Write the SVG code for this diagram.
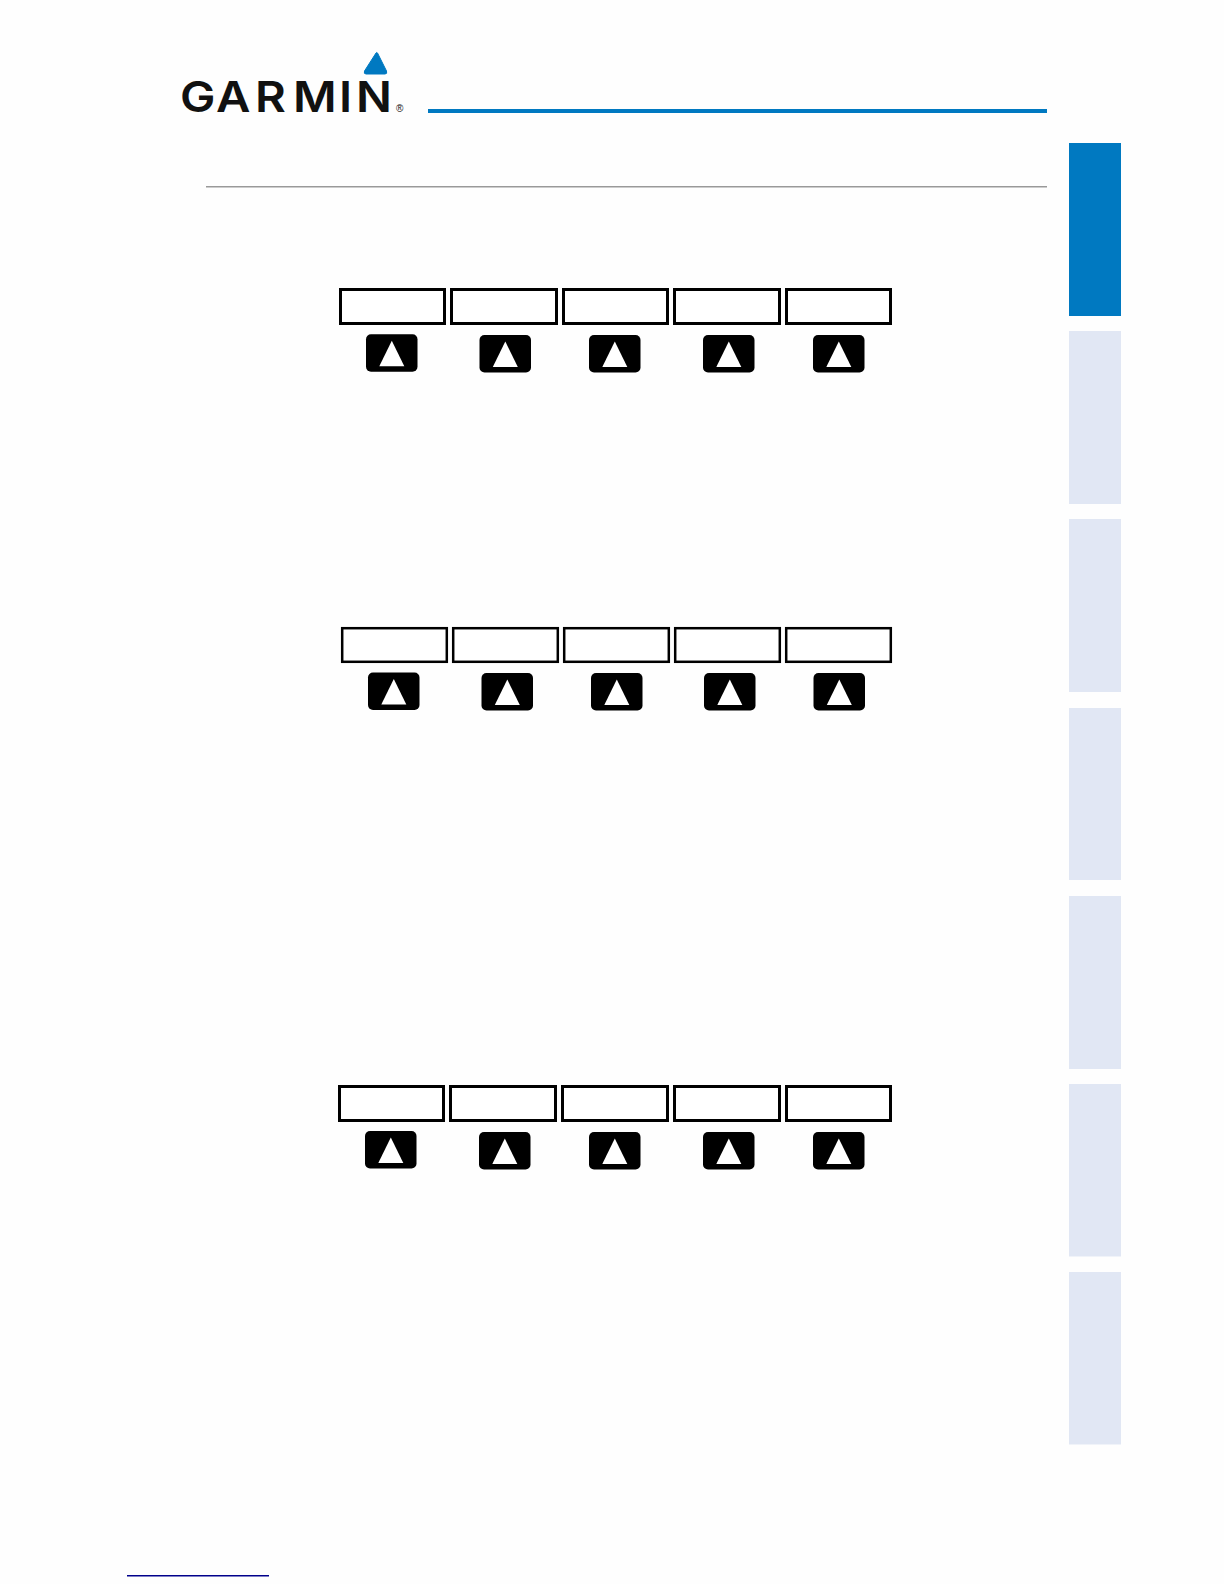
<svg xmlns="http://www.w3.org/2000/svg" width="1224" height="1584" viewBox="0 0 1224 1584">
<style>
.bg{fill:#fefefe}
.tab{fill:#e1e7f4}
.tabon{fill:#0079c1}
.key{fill:#fff;stroke:#000;stroke-width:3}
.keyb{fill:#fff;stroke:#000;stroke-width:2.5}
.btn{fill:#000}
.tri{fill:#fff}
.logo{font-family:"Inter","Liberation Sans",sans-serif;font-weight:600;fill:#111}
</style>
<defs>
<g id="softkey">
<rect class="btn" x="0" y="0" width="51.5" height="37.5" rx="5" ry="5"/>
<polygon class="tri" points="25.8,6.5 38.3,32 13.3,32"/>
</g>
</defs>
<rect class="bg" width="1224" height="1584"/>

<g id="logo">
<path d="M376 53 Q376.7 52 377.5 53 L386.5 71 Q387.5 74 385 74 L366 74 Q363.5 74 364.5 71 Z" fill="#0079c1" stroke="#0079c1" stroke-width="1" stroke-linejoin="round"/>
<text class="logo" transform="translate(180 112) scale(1.1 1)" x="0 32.700 68.200 102.700 144.500 160" y="0" font-size="43">GARMIN</text>
<text x="396" y="112" font-family="Liberation Sans, sans-serif" font-size="10" fill="#111">®</text>
</g>
<rect id="header-rule" x="428" y="109" width="619" height="4" fill="#0079c1"/>
<rect id="section-rule" x="206" y="186" width="841" height="1.5" fill="#999"/>

<g id="tabs">
<rect id="tab-1" class="tabon" x="1069" y="143" width="52" height="173"/>
<rect id="tab-2" class="tab" x="1069" y="331" width="52" height="173"/>
<rect id="tab-3" class="tab" x="1069" y="519" width="52" height="173"/>
<rect id="tab-4" class="tab" x="1069" y="708" width="52" height="172"/>
<rect id="tab-5" class="tab" x="1069" y="896" width="52" height="173"/>
<rect id="tab-6" class="tab" x="1069" y="1084" width="52" height="172.500"/>
<rect id="tab-7" class="tab" x="1069" y="1272" width="52" height="172.500"/>
</g>

<g id="softkeys-1">
<rect class="key" x="340.5" y="289.5" width="104" height="34"/>
<rect class="key" x="451.500" y="289.5" width="105" height="34"/>
<rect class="key" x="563.5" y="289.5" width="104" height="34"/>
<rect class="key" x="674.5" y="289.5" width="105" height="34"/>
<rect class="key" x="786.5" y="289.5" width="104" height="34"/>
<use href="#softkey" x="366" y="334.300"/>
<use href="#softkey" x="479.500" y="335"/>
<use href="#softkey" x="589" y="335"/>
<use href="#softkey" x="703" y="335"/>
<use href="#softkey" x="813" y="335"/>
</g>

<g id="softkeys-2">
<rect class="keyb" x="342.2" y="628.2" width="104.6" height="33.6"/>
<rect class="keyb" x="453.2" y="628.2" width="104.6" height="33.6"/>
<rect class="keyb" x="564.2" y="628.2" width="104.6" height="33.6"/>
<rect class="keyb" x="675.2" y="628.2" width="104.6" height="33.6"/>
<rect class="keyb" x="786.2" y="628.2" width="104.6" height="33.6"/>
<use href="#softkey" x="368" y="672.500"/>
<use href="#softkey" x="481.500" y="673"/>
<use href="#softkey" x="591" y="673"/>
<use href="#softkey" x="704" y="673"/>
<use href="#softkey" x="813.500" y="673"/>
</g>

<g id="softkeys-3">
<rect class="key" x="339.5" y="1086.5" width="104" height="34"/>
<rect class="key" x="450.5" y="1086.5" width="105" height="34"/>
<rect class="key" x="562.5" y="1086.5" width="105" height="34"/>
<rect class="key" x="674.5" y="1086.5" width="105" height="34"/>
<rect class="key" x="786.5" y="1086.5" width="104" height="34"/>
<use href="#softkey" x="365" y="1131"/>
<use href="#softkey" x="479" y="1132"/>
<use href="#softkey" x="589" y="1132"/>
<use href="#softkey" x="703" y="1132"/>
<use href="#softkey" x="813" y="1132"/>
</g>

<rect id="footer-link" x="127" y="1575" width="142" height="1.5" fill="#00008b"/>
</svg>
